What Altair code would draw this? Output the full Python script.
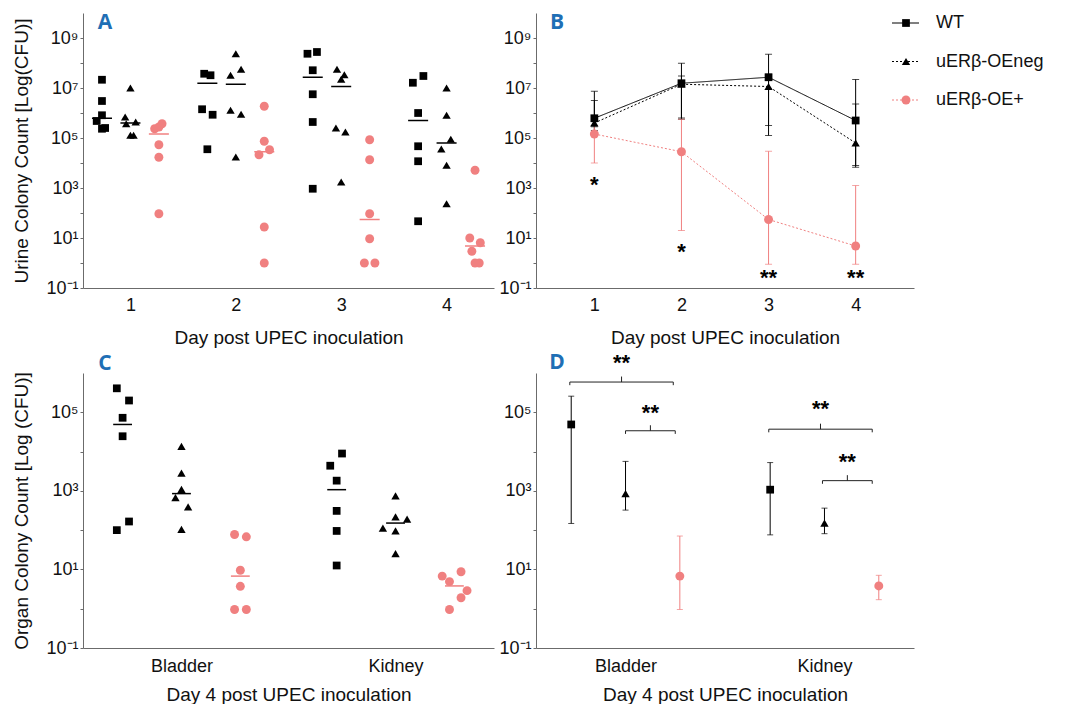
import altair as alt
import pandas as pd

# ---------------- data ----------------
groups = ["WT", "uERβ-OEneg", "uERβ-OE+"]
group_colors = ["#000000", "#000000", "#F08080"]
group_shapes = ["square", "triangle-up", "circle"]
group_dashes = [[1, 0], [2, 2], [2, 2]]

days = [1, 2, 3, 4]
day_labels = ["1", "2", "3", "4"]
organs = [1, 2]
organ_labels = ["Bladder", "Kidney"]
panel_letters = ["A", "B", "C", "D"]

# Panel A: urine CFU per mouse (log10), one list per day
urine_wt_log = [
    [7.33, 6.48, 5.91, 5.68, 5.40, 5.37],
    [7.57, 7.51, 6.15, 5.93, 4.55],
    [8.37, 8.44, 7.71, 6.75, 5.64, 2.97],
    [7.21, 7.48, 6.00, 4.67, 4.07, 1.67],
]
urine_wt_jit = [
    [0.0, 0.0, 0.0, -0.05, 0.03, 0.0],
    [-0.03, 0.03, -0.05, 0.05, 0.0],
    [-0.05, 0.04, 0.0, 0.0, 0.0, 0.0],
    [-0.05, 0.05, 0.0, 0.0, 0.0, 0.0],
]
urine_neg_log = [
    [7.00, 5.84, 5.57, 5.64, 5.11, 5.11],
    [8.37, 7.75, 7.51, 6.11, 5.95, 4.24],
    [7.75, 7.53, 7.35, 5.40, 5.24, 3.24],
    [7.00, 5.91, 4.95, 4.56, 3.91, 2.37],
]
urine_neg_jit = [
    [0.0, -0.05, -0.04, 0.05, 0.0, 0.03],
    [0.0, 0.05, -0.05, -0.05, 0.05, 0.0],
    [-0.04, 0.03, 0.0, -0.05, 0.04, 0.0],
    [0.0, 0.0, 0.04, -0.05, 0.0, 0.0],
]
urine_pos_log = [
    [5.57, 5.44, 5.37, 4.73, 4.23, 1.97],
    [6.27, 4.87, 4.53, 4.33, 1.44, 0.0],
    [4.93, 4.13, 1.97, 0.97, 0.0, 0.0],
    [3.71, 1.00, 0.81, 0.47, 0.0, 0.0],
]
urine_pos_jit = [
    [0.03, 0.0, -0.04, 0.0, 0.0, 0.0],
    [0.0, 0.0, 0.05, -0.05, 0.0, 0.0],
    [0.0, 0.0, 0.0, 0.0, -0.05, 0.05],
    [0.0, -0.05, 0.05, -0.03, 0.0, 0.04],
]

# Panel A lines / Panel B summary (log10)
urine_wt_mid = [5.79, 7.19, 7.43, 5.70]
urine_neg_mid = [5.60, 7.15, 7.06, 4.80]
urine_pos_mid = [5.16, 4.45, 1.74, 0.68]
urine_wt_lo = [5.45, 5.75, 5.50, 3.90]
urine_wt_hi = [6.87, 7.99, 8.35, 7.34]
urine_neg_lo = [5.30, 5.80, 5.10, 3.83]
urine_neg_hi = [6.50, 7.48, 7.55, 6.36]
urine_pos_lo = [4.00, 1.30, -0.05, -0.05]
urine_pos_hi = [5.50, 5.75, 4.47, 3.10]
urine_star_text = ["*", "*", "**", "**"]
urine_star_log = [3.17, 0.50, -0.56, -0.56]

# Panel C: organ CFU per mouse (log10), [bladder, kidney]
organ_wt_log = [[5.61, 5.30, 4.86, 4.39, 2.22, 2.00], [3.95, 3.64, 3.26, 2.49, 1.98, 1.10]]
organ_wt_jit = [[-0.027, 0.03, 0.0, 0.0, 0.03, -0.027], [0.025, -0.03, 0.0, 0.0, 0.0, 0.0]]
organ_neg_log = [[4.13, 3.45, 3.04, 2.83, 2.59, 2.02], [2.87, 2.34, 2.28, 2.05, 1.98, 1.40]]
organ_neg_jit = [[0.0, 0.0, 0.0, -0.028, 0.031, 0.0], [0.0, 0.0, 0.054, -0.059, 0.0, 0.0]]
organ_pos_log = [[1.89, 1.83, 0.98, 0.57, -0.02, -0.02], [0.83, 0.94, 0.69, 0.46, 0.28, -0.02]]
organ_pos_jit = [[-0.027, 0.028, 0.0, 0.0, -0.027, 0.028], [-0.057, 0.031, -0.023, 0.059, 0.031, -0.023]]

# Panel C lines / Panel D summary (log10)
organ_wt_mid = [4.69, 3.03]
organ_neg_mid = [2.93, 2.18]
organ_pos_mid = [0.83, 0.58]
organ_wt_lo = [2.17, 1.88]
organ_wt_hi = [5.41, 3.72]
organ_neg_lo = [2.51, 1.91]
organ_neg_hi = [3.75, 2.56]
organ_pos_lo = [-0.02, 0.23]
organ_pos_hi = [1.85, 0.85]

# Panel D significance brackets
bracket_left = [0.72, 1.00, 1.72, 1.99]
bracket_right = [1.24, 1.25, 2.24, 2.24]
bracket_log = [5.77, 4.53, 4.57, 3.26]
bracket_star_log = [6.28, 5.00, 5.11, 3.77]
bracket_star_text = ["**", "**", "**", "**"]

# ---------------- helpers ----------------
FONT = "Liberation Sans"
BLUE = "#1F6FB5"


def dot_rows(values, jitters, cats, group, offset):
    rows = []
    for c, vals, jits in zip(cats, values, jitters):
        for v, j in zip(vals, jits):
            rows.append({"group": group, "x": c + offset + j, "cfu": 10.0 ** v})
    return rows


def sum_rows(cats, mids, los, his, group, offset, half):
    rows = []
    for c, m, lo, hi in zip(cats, mids, los, his):
        rows.append({"group": group, "x": c + offset, "xa": c + offset - half,
                     "xb": c + offset + half, "mid": 10.0 ** m,
                     "lo": 10.0 ** lo, "hi": 10.0 ** hi})
    return rows


SUP = str.maketrans("-0123456789", "⁻⁰¹²³⁴⁵⁶⁷⁸⁹")


def log_axis(top_exp, title, title_pad):
    exps = list(range(-1, top_exp + 1))
    labeled = [k for k in exps if k % 2 != 0]
    parts = [f"abs(log(datum.value) / LN10 - ({k})) < 0.01 ? '10{str(k).translate(SUP)}'"
             for k in labeled]
    expr = " : ".join(parts) + " : ''"
    return alt.Axis(values=[10.0 ** k for k in exps], labelExpr=expr, tickSize=3,
                    labelPadding=2, labelOverlap=False, grid=False,
                    title=title, titlePadding=title_pad)


def cat_axis(vals, labels, title, label_pad, title_pad):
    expr = " : ".join(f"datum.value == {v} ? '{l}'" for v, l in zip(vals, labels)) + " : ''"
    return alt.Axis(values=vals, labelExpr=expr, tickSize=0, labelPadding=label_pad,
                    title=title, titlePadding=title_pad, grid=False, labelFlush=False)


color_enc = alt.Color("group:N", scale=alt.Scale(domain=groups, range=group_colors), legend=None)
shape_enc = alt.Shape("group:N", scale=alt.Scale(domain=groups, range=group_shapes), legend=None)
dash_enc = alt.StrokeDash("group:N", scale=alt.Scale(domain=groups, range=group_dashes), legend=None)


def size_enc(sizes):
    return alt.Size("group:N", scale=alt.Scale(domain=groups, range=sizes), legend=None)


def letter(ch, px, py):
    return alt.Chart(pd.DataFrame({"t": [ch]})).mark_text(
        font="Open Sans", fontWeight="bold", fontSize=21, color=BLUE,
        align="center", baseline="middle").encode(
        x=alt.value(px), y=alt.value(py), text="t:N")


W_L, W_R, H = 411, 378, 275
STAR_DY = 1

# ---------------- Panel A ----------------
a_dots = pd.DataFrame(
    dot_rows(urine_wt_log, urine_wt_jit, days, groups[0], -0.27)
    + dot_rows(urine_neg_log, urine_neg_jit, days, groups[1], 0.0)
    + dot_rows(urine_pos_log, urine_pos_jit, days, groups[2], 0.27))
a_sum = pd.DataFrame(
    sum_rows(days, urine_wt_mid, urine_wt_lo, urine_wt_hi, groups[0], -0.27, 0.095)
    + sum_rows(days, urine_neg_mid, urine_neg_lo, urine_neg_hi, groups[1], 0.0, 0.095)
    + sum_rows(days, urine_pos_mid, urine_pos_lo, urine_pos_hi, groups[2], 0.27, 0.095))

a_xs = alt.Scale(domain=[0.55, 4.45], nice=False, zero=False)
a_xax = cat_axis(days, day_labels, "Day post UPEC inoculation", 8, 14)
u_ys = alt.Scale(type="log", domain=[0.1, 1e10], nice=False)
a_yax = log_axis(9, "Urine Colony Count [Log(CFU)]", 14)


def AX(f):
    return alt.X(f, scale=a_xs, axis=a_xax)


def AY(f):
    return alt.Y(f, scale=u_ys, axis=a_yax)


a_points = alt.Chart(a_dots).mark_point(filled=True, opacity=1).encode(
    x=AX("x:Q"), y=AY("cfu:Q"), color=color_enc, shape=shape_enc,
    size=size_enc([60, 80, 80]))
a_lines = alt.Chart(a_sum).mark_rule(strokeWidth=1.5).encode(
    x=AX("xa:Q"), x2="xb:Q", y=AY("mid:Q"), color=color_enc)
panel_a = alt.layer(a_points, a_lines, letter(panel_letters[0], 22, 10)).properties(
    width=W_L, height=H)

# ---------------- Panel B ----------------
b_sum = pd.DataFrame(
    sum_rows(days, urine_wt_mid, urine_wt_lo, urine_wt_hi, groups[0], 0.0, 0.0)
    + sum_rows(days, urine_neg_mid, urine_neg_lo, urine_neg_hi, groups[1], 0.0, 0.0)
    + sum_rows(days, urine_pos_mid, urine_pos_lo, urine_pos_hi, groups[2], 0.0, 0.0))
b_stars = pd.DataFrame({"x": days, "y": [10.0 ** v for v in urine_star_log],
                        "t": urine_star_text})

b_xs = alt.Scale(domain=[0.33, 4.67], nice=False, zero=False)
b_xax = cat_axis(days, day_labels, "Day post UPEC inoculation", 8, 14)
b_yax = log_axis(9, None, 0)


def BX(f):
    return alt.X(f, scale=b_xs, axis=b_xax)


def BY(f):
    return alt.Y(f, scale=u_ys, axis=b_yax)


b_lines = alt.Chart(b_sum).mark_line(strokeWidth=1).encode(
    x=BX("x:Q"), y=BY("mid:Q"), color=color_enc, strokeDash=dash_enc, detail="group:N")
b_bars = alt.Chart(b_sum).mark_rule(strokeWidth=1).encode(
    x=BX("x:Q"), y=BY("lo:Q"), y2="hi:Q", color=color_enc)
b_cap_lo = alt.Chart(b_sum).mark_tick(orient="horizontal", size=7, thickness=1).encode(
    x=BX("x:Q"), y=BY("lo:Q"), color=color_enc)
b_cap_hi = alt.Chart(b_sum).mark_tick(orient="horizontal", size=7, thickness=1).encode(
    x=BX("x:Q"), y=BY("hi:Q"), color=color_enc)
b_points = alt.Chart(b_sum).mark_point(filled=True, opacity=1).encode(
    x=BX("x:Q"), y=BY("mid:Q"), color=color_enc, shape=shape_enc,
    size=size_enc([45, 60, 75]))
b_text = alt.Chart(b_stars).mark_text(font=FONT, fontSize=22, fontWeight="bold",
                                      baseline="middle", dy=STAR_DY).encode(
    x=BX("x:Q"), y=BY("y:Q"), text="t:N")
b_main = alt.layer(b_lines, b_bars, b_cap_lo, b_cap_hi, b_points, b_text,
                   letter(panel_letters[1], 21, 10))

leg_df = pd.DataFrame({"group": groups})
leg_y = alt.Y("group:N", scale=alt.Scale(type="point", domain=groups, range=[10, 87], padding=0),
              axis=None)
leg_rule = alt.Chart(leg_df).mark_rule(strokeWidth=1).encode(
    x=alt.value(356), x2=alt.value(383), y=leg_y, color=color_enc, strokeDash=dash_enc)
leg_pt = alt.Chart(leg_df).mark_point(filled=True, opacity=1).encode(
    x=alt.value(370), y=leg_y, color=color_enc, shape=shape_enc, size=size_enc([45, 60, 75]))
leg_txt = alt.Chart(leg_df).mark_text(font=FONT, fontSize=18, align="left",
                                      baseline="middle", color="#111").encode(
    x=alt.value(400), y=leg_y, text="group:N")
b_leg = alt.layer(leg_rule, leg_pt, leg_txt)
panel_b = alt.layer(b_main, b_leg).resolve_scale(y="independent").properties(
    width=W_R, height=H)

# ---------------- Panel C ----------------
c_dots = pd.DataFrame(
    dot_rows(organ_wt_log, organ_wt_jit, organs, groups[0], -0.275)
    + dot_rows(organ_neg_log, organ_neg_jit, organs, groups[1], 0.0)
    + dot_rows(organ_pos_log, organ_pos_jit, organs, groups[2], 0.275))
c_sum = pd.DataFrame(
    sum_rows(organs, organ_wt_mid, organ_wt_lo, organ_wt_hi, groups[0], -0.275, 0.044)
    + sum_rows(organs, organ_neg_mid, organ_neg_lo, organ_neg_hi, groups[1], 0.0, 0.044)
    + sum_rows(organs, organ_pos_mid, organ_pos_lo, organ_pos_hi, groups[2], 0.275, 0.044))

c_xs = alt.Scale(domain=[0.54, 2.46], nice=False, zero=False)
c_xax = cat_axis(organs, organ_labels, "Day 4 post UPEC inoculation", 9, 10)
o_ys = alt.Scale(type="log", domain=[0.1, 1e6], nice=False)
c_yax = log_axis(5, "Organ Colony Count [Log (CFU)]", 14)


def CX(f):
    return alt.X(f, scale=c_xs, axis=c_xax)


def CY(f):
    return alt.Y(f, scale=o_ys, axis=c_yax)


c_points = alt.Chart(c_dots).mark_point(filled=True, opacity=1).encode(
    x=CX("x:Q"), y=CY("cfu:Q"), color=color_enc, shape=shape_enc,
    size=size_enc([60, 80, 80]))
c_lines = alt.Chart(c_sum).mark_rule(strokeWidth=1.5).encode(
    x=CX("xa:Q"), x2="xb:Q", y=CY("mid:Q"), color=color_enc)
panel_c = alt.layer(c_points, c_lines, letter(panel_letters[2], 22, -9)).properties(
    width=W_L, height=H)

# ---------------- Panel D ----------------
d_sum = pd.DataFrame(
    sum_rows(organs, organ_wt_mid, organ_wt_lo, organ_wt_hi, groups[0], -0.273, 0.0)
    + sum_rows(organs, organ_neg_mid, organ_neg_lo, organ_neg_hi, groups[1], 0.0, 0.0)
    + sum_rows(organs, organ_pos_mid, organ_pos_lo, organ_pos_hi, groups[2], 0.273, 0.0))
d_br = pd.DataFrame({
    "l": bracket_left, "r": bracket_right,
    "m": [(a + b) / 2 for a, b in zip(bracket_left, bracket_right)],
    "y": [10.0 ** v for v in bracket_log],
    "ylo": [10.0 ** (v - 0.08) for v in bracket_log],
    "yhi": [10.0 ** (v + 0.14) for v in bracket_log],
    "sy": [10.0 ** v for v in bracket_star_log],
    "t": bracket_star_text,
})

d_xs = alt.Scale(domain=[0.55, 2.45], nice=False, zero=False)
d_xax = cat_axis(organs, organ_labels, "Day 4 post UPEC inoculation", 9, 10)
d_yax = log_axis(5, None, 0)


def DX(f):
    return alt.X(f, scale=d_xs, axis=d_xax)


def DY(f):
    return alt.Y(f, scale=o_ys, axis=d_yax)


d_bars = alt.Chart(d_sum).mark_rule(strokeWidth=1).encode(
    x=DX("x:Q"), y=DY("lo:Q"), y2="hi:Q", color=color_enc)
d_cap_lo = alt.Chart(d_sum).mark_tick(orient="horizontal", size=6, thickness=1).encode(
    x=DX("x:Q"), y=DY("lo:Q"), color=color_enc)
d_cap_hi = alt.Chart(d_sum).mark_tick(orient="horizontal", size=6, thickness=1).encode(
    x=DX("x:Q"), y=DY("hi:Q"), color=color_enc)
d_points = alt.Chart(d_sum).mark_point(filled=True, opacity=1).encode(
    x=DX("x:Q"), y=DY("mid:Q"), color=color_enc, shape=shape_enc,
    size=size_enc([40, 65, 70]))
br_h = alt.Chart(d_br).mark_rule(strokeWidth=1, color="#222").encode(
    x=DX("l:Q"), x2="r:Q", y=DY("y:Q"))
br_l = alt.Chart(d_br).mark_rule(strokeWidth=1, color="#222").encode(
    x=DX("l:Q"), y=DY("y:Q"), y2="ylo:Q")
br_r = alt.Chart(d_br).mark_rule(strokeWidth=1, color="#222").encode(
    x=DX("r:Q"), y=DY("y:Q"), y2="ylo:Q")
br_m = alt.Chart(d_br).mark_rule(strokeWidth=1, color="#222").encode(
    x=DX("m:Q"), y=DY("y:Q"), y2="yhi:Q")
br_t = alt.Chart(d_br).mark_text(font=FONT, fontSize=22, fontWeight="bold",
                                 baseline="middle", dy=STAR_DY).encode(
    x=DX("m:Q"), y=DY("sy:Q"), text="t:N")
panel_d = alt.layer(d_bars, d_cap_lo, d_cap_hi, d_points, br_h, br_l, br_r, br_m, br_t,
                    letter(panel_letters[3], 21, -10)).properties(width=W_R, height=H)

# ---------------- layout ----------------
chart = alt.concat(
    panel_a, panel_b, panel_c, panel_d, columns=2,
    spacing={"row": 85, "column": 42}, bounds="flush",
).resolve_scale(x="independent", y="independent").properties(
    padding={"left": 4, "top": 4, "right": 0, "bottom": 0}
).configure_view(stroke=None).configure_axis(
    domainColor="#6b6b6b", tickColor="#6b6b6b", labelColor="#111111", titleColor="#111111",
    labelFont=FONT, titleFont=FONT, labelFontSize=18, titleFontSize=19,
    titleFontWeight="normal", domainWidth=1, tickWidth=1)

chart.save("out.html", embed_options={"renderer": "svg", "actions": False})
